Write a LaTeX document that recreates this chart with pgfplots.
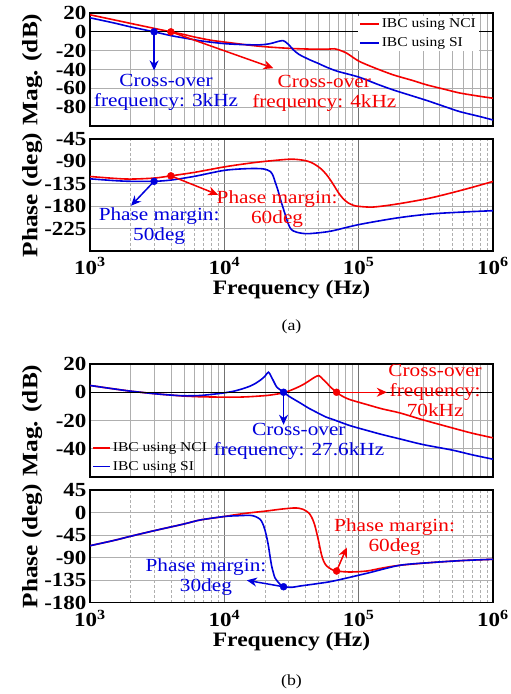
\documentclass[border=0pt]{standalone}
\usepackage{fontspec}
\setmainfont{Liberation Serif}[FakeStretch=1.15]
\usepackage{pgfplots}
\pgfplotsset{compat=1.18}
\usetikzlibrary{arrows.meta}

\definecolor{nred}{RGB}{245,0,0}
\definecolor{sblue}{RGB}{0,0,220}
\definecolor{gridgray}{RGB}{175,175,175}

\tikzset{
  annot/.style={font=\fontsize{18.5}{20}\selectfont, align=center, inner sep=0pt},
  arrw/.style={line width=1.5pt, -{Stealth[length=10pt,width=9pt]}},
}
\newcommand{\ticks}{\fontsize{20}{20}\selectfont\bfseries}
\newcommand{\labs}{\fontsize{22}{22}\selectfont\bfseries}

\begin{document}
\begin{tikzpicture}
\useasboundingbox (0,0) rectangle (511pt,-694pt);

% ---------------- (a) magnitude
\begin{axis}[at={(90pt,-13pt)}, anchor=north west, scale only axis, width=403pt, height=113pt,
    xmode=log, xmin=1000, xmax=1000000, xtick={1000,10000,100000,1000000}, xticklabels={},
    ymin=-100, ymax=20,
    ytick={-80,-60,-40,-20,0,20}, yticklabels={-80,-60,-40,-20,0,20},
    xmajorgrids, xminorgrids, ymajorgrids,
    major tick length=0pt, minor tick length=0pt,
    axis line style={line width=1.5pt},
    major x grid style={black!55, line width=0.6pt},
    minor x grid style={gridgray, line width=0.5pt},
    major y grid style={gridgray, line width=1pt},
    tick label style={font=\ticks},
    ylabel={Mag. (dB)},
    ylabel style={at={(rel axis cs:-0.118,0.5)}, anchor=south, inner sep=0pt, font=\labs},
    legend image code/.code={\draw[#1, line width=1.7pt] (0pt,0pt) -- (19pt,0pt);},
    legend style={at={(rel axis cs:1,1)}, anchor=north east, xshift=-14pt, yshift=-2.5pt,
      draw=none, fill=white, font=\fontsize{13.5}{14}\selectfont,
      row sep=4.5pt, inner sep=1pt, cells={anchor=west}},
]
\addplot[nred, line width=1.6pt, smooth] coordinates {
(1000,18.1)(1500,12.8)(2000,9.0)(3000,3.7)(4000,0)(5000,-2.8)(6000,-5.5)(8000,-9)
(10000,-10.8)(15000,-14)(20000,-15.8)(30000,-17.5)(40000,-18.2)(50000,-18.4)(60000,-18.3)
(66000,-18)(70000,-18.8)(81500,-22.7)(100000,-31)(130000,-38)(181000,-45.7)(250000,-51.5)
(323000,-56.4)(450000,-61.5)(568000,-65)(800000,-68.5)(1000000,-70.5)};
\addlegendentry{IBC using NCI}
\addplot[sblue, line width=1.6pt, smooth] coordinates {
(1000,14.9)(1500,9.5)(2000,5.3)(3000,0)(4000,-4)(5000,-6.5)(7000,-10)(10000,-12.5)
(14000,-13.6)(18400,-13.8)(21000,-13)(23000,-11.8)(25000,-10.3)(27300,-9.3)(29000,-11.5)
(31000,-15.5)(32600,-19)(36000,-24)(43400,-29.8)(50000,-33.5)(57800,-37.6)(70000,-42)
(100000,-48)(140000,-56)(181000,-61.7)(250000,-68)(323000,-73)(450000,-80)(568000,-84.8)
(800000,-90)(1000000,-93.6)};
\addlegendentry{IBC using SI}
\draw[black, line width=1.2pt] (axis cs:1000,0) -- (axis cs:1000000,0);
\addplot[sblue, only marks, mark=*, mark size=3.5pt, forget plot] coordinates {(3000,0)};
\addplot[nred, only marks, mark=*, mark size=3.5pt, forget plot] coordinates {(4000,0)};
\draw[arrw, sblue] (axis cs:3000,0) -- (axis cs:3000,-41);
\draw[arrw, nred] (axis cs:4000,0) -- (axis cs:23200,-38.6);
\node[annot, sblue] at (axis cs:3680,-64.5) {Cross-over\\frequency: 3kHz};
\node[annot, nred] at (axis cs:55500,-65) {Cross-over\\frequency: 4kHz};
\end{axis}

% ---------------- (a) phase
\begin{axis}[at={(90pt,-139pt)}, anchor=north west, scale only axis, width=403pt, height=112pt,
    xmode=log, xmin=1000, xmax=1000000, xtick={1000,10000,100000,1000000},
    xticklabels={10\textsuperscript{3},10\textsuperscript{4},10\textsuperscript{5},10\textsuperscript{6}},
    xticklabel style={yshift=-3pt},
    ymin=-270, ymax=-45,
    ytick={-225,-180,-135,-90,-45}, yticklabels={-225,-180,-135,-90,-45},
    xmajorgrids, xminorgrids, ymajorgrids,
    major tick length=0pt, minor tick length=0pt,
    axis line style={line width=1.5pt},
    major x grid style={black!55, line width=0.6pt},
    minor x grid style={gridgray, line width=0.5pt, dash pattern=on 3pt off 2pt},
    major y grid style={gridgray, line width=1pt},
    tick label style={font=\ticks},
    ylabel={Phase (deg)},
    ylabel style={at={(rel axis cs:-0.118,0.5)}, anchor=south, inner sep=0pt, font=\labs},
    xlabel={Frequency (Hz)},
    xlabel style={at={(rel axis cs:0.5,-0.392)}, anchor=base, font=\fontsize{20.5}{21}\selectfont\bfseries},
]
\addplot[nred, line width=1.6pt, smooth] coordinates {
(1000,-120.3)(1500,-124)(2000,-125.5)(3000,-123.5)(4000,-119)(6000,-112)(10000,-101)
(15000,-94)(20000,-90)(30000,-85.7)(36000,-86.5)(41000,-89)(45000,-93)(48600,-98.3)
(53000,-106)(57800,-117)(61500,-127)(65000,-137)(68500,-147)(72500,-157)(78000,-167)
(84000,-173.7)(92000,-178.5)(100000,-180.3)(128000,-181.7)(192000,-175.7)(339000,-163.7)
(600000,-147)(1000000,-130.3)};
\addplot[sblue, line width=1.6pt, smooth] coordinates {
(1000,-125)(1500,-128.5)(2000,-130)(3000,-130)(4000,-127.5)(6000,-120)(10000,-108)
(15000,-104.5)(19500,-105)(21900,-110)(23000,-118)(23800,-130)(25000,-147)(26000,-163.7)
(27200,-181)(28400,-197)(29600,-212)(30900,-223.7)(32500,-229.5)(34600,-232.3)
(38000,-234.5)(43400,-235)(61500,-230.3)(100000,-217)(192000,-203.7)(339000,-195.7)
(600000,-191.7)(1000000,-189)};
\addplot[sblue, only marks, mark=*, mark size=3.5pt] coordinates {(3000,-130)};
\addplot[nred, only marks, mark=*, mark size=3.5pt] coordinates {(4000,-119)};
\draw[arrw, sblue] (axis cs:3000,-130) -- (axis cs:2020,-179);
\draw[arrw, nred] (axis cs:4000,-119) -- (axis cs:8970,-157);
\node[annot, sblue] at (axis cs:3270,-220.6) {Phase margin:\\50deg};
\node[annot, nred] at (axis cs:24700,-186) {Phase margin:\\60deg};
\end{axis}

\node[font=\fontsize{15.5}{16}\selectfont] at (291.5pt,-327pt) {(a)};

% ---------------- (b) magnitude
\begin{axis}[at={(90pt,-364pt)}, anchor=north west, scale only axis, width=403pt, height=113pt,
    xmode=log, xmin=1000, xmax=1000000, xtick={1000,10000,100000,1000000}, xticklabels={},
    ymin=-60, ymax=20,
    ytick={-40,-20,0,20}, yticklabels={-40,-20,0,20},
    xmajorgrids, xminorgrids, ymajorgrids,
    major tick length=0pt, minor tick length=0pt,
    axis line style={line width=1.5pt},
    major x grid style={black!55, line width=0.6pt},
    minor x grid style={gridgray, line width=0.5pt},
    major y grid style={gridgray, line width=1pt},
    tick label style={font=\ticks},
    ylabel={Mag. (dB)},
    ylabel style={at={(rel axis cs:-0.118,0.5)}, anchor=south, inner sep=0pt, font=\labs},
    legend image code/.code={\draw[#1, line width=1.7pt] (0pt,0pt) -- (17pt,0pt);},
    legend style={at={(rel axis cs:0,0)}, anchor=south west, xshift=1pt, yshift=2pt,
      draw=none, fill=none, font=\fontsize{13.5}{14}\selectfont,
      row sep=4pt, inner sep=1pt, cells={anchor=west}},
]
\addplot[nred, line width=1.6pt, smooth] coordinates {
(1000,4.8)(1500,2.4)(2000,0.8)(3000,-1)(4000,-2)(5000,-2.7)(6600,-3.2)(8800,-3.4)
(11700,-3.5)(15000,-3.2)(20600,-2.3)(25000,-1.2)(27500,-0.5)(32000,1.8)(36600,4.3)
(40000,6.3)(43400,8.5)(47000,10.6)(50600,11.8)(54000,9.3)(57800,6.6)(62000,3.5)
(68500,0)(75000,-2.6)(86000,-5.2)(115000,-8.7)(150000,-11.8)(202000,-14.6)
(300000,-19.5)(500000,-25.3)(700000,-29)(1000000,-32.3)};
\addlegendentry{IBC using NCI}
\addplot[sblue, line width=1.6pt, smooth] coordinates {
(1000,4.8)(1500,2.4)(2000,0.8)(3000,-1)(4000,-2)(5000,-2.5)(6600,-2.3)(8800,-1.1)
(10000,-0.4)(11700,0.7)(13500,2.3)(15500,4.3)(17000,6.2)(18500,8.5)(20000,11.2)
(21300,14.2)(22500,10.5)(23500,7)(24500,3.8)(26000,1.8)(27600,0)(30000,-2.6)(33000,-5)
(36600,-7.5)(42000,-11)(48600,-14.2)(57000,-17.5)(65000,-19.4)(86000,-23.6)(115000,-27)
(150000,-30)(202000,-33)(300000,-37)(500000,-41)(700000,-44.3)(1000000,-47.4)};
\addlegendentry{IBC using SI}
\draw[black, line width=1.2pt] (axis cs:1000,0) -- (axis cs:1000000,0);
\addplot[sblue, only marks, mark=*, mark size=3.5pt, forget plot] coordinates {(27600,0)};
\addplot[nred, only marks, mark=*, mark size=3.5pt, forget plot] coordinates {(68500,0)};
\draw[arrw, sblue] (axis cs:27600,0) -- (axis cs:27600,-23);
\draw[arrw, nred] (axis cs:68500,0) -- (axis cs:162000,0);
\node[annot, sblue] at (axis cs:35900,-34.8) {Cross-over\\frequency: 27.6kHz};
\node[annot, nred] at (axis cs:371000,1) {Cross-over\\frequency:\\70kHz};
\end{axis}

% ---------------- (b) phase
\begin{axis}[at={(90pt,-490pt)}, anchor=north west, scale only axis, width=403pt, height=112.5pt,
    xmode=log, xmin=1000, xmax=1000000, xtick={1000,10000,100000,1000000},
    xticklabels={10\textsuperscript{3},10\textsuperscript{4},10\textsuperscript{5},10\textsuperscript{6}},
    xticklabel style={yshift=-4pt},
    ymin=-180, ymax=45,
    ytick={-180,-135,-90,-45,0,45}, yticklabels={-180,-135,-90,-45,0,45},
    xmajorgrids, xminorgrids, ymajorgrids,
    major tick length=0pt, minor tick length=0pt,
    axis line style={line width=1.5pt},
    major x grid style={black!55, line width=0.6pt},
    minor x grid style={gridgray, line width=0.5pt, dash pattern=on 3pt off 2pt},
    major y grid style={gridgray, line width=1pt},
    tick label style={font=\ticks},
    ylabel={Phase (deg)},
    ylabel style={at={(rel axis cs:-0.118,0.5)}, anchor=south, inner sep=0pt, font=\labs},
    xlabel={Frequency (Hz)},
    xlabel style={at={(rel axis cs:0.5,-0.391)}, anchor=base, font=\fontsize{20.5}{21}\selectfont\bfseries},
]
\addplot[nred, line width=1.6pt, smooth] coordinates {
(1000,-66.4)(1500,-56)(2000,-47.6)(3000,-36.4)(5000,-23)(6600,-15)(10000,-8)
(11700,-5)(15000,-1)(20600,3)(26000,6.5)(32600,9)(36000,8.5)(38600,6.3)(41000,2.5)
(43400,-3.7)(45500,-14)(47300,-27)(50000,-53.7)(52800,-83.7)(55000,-98)(57800,-107)
(62800,-113.7)(68500,-117)(86000,-119)(115000,-117)(150000,-111)(202000,-105.6)
(350000,-100)(600000,-96)(1000000,-93.6)};
\addplot[sblue, line width=1.6pt, smooth] coordinates {
(1000,-66.4)(1500,-56)(2000,-47.6)(3000,-36.4)(5000,-23)(6600,-15)(10000,-8)
(12500,-6.5)(15500,-5.7)(17000,-8)(18500,-13.7)(19300,-22)(20000,-33.7)(20700,-50)
(21300,-67)(21900,-88)(22500,-107)(23200,-121)(23800,-130.4)(25000,-138.5)(26000,-143.7)
(27600,-148.5)(32000,-149.5)(36600,-147)(50000,-142)(65000,-137)(115000,-121.6)
(202000,-105.6)(350000,-100)(600000,-96)(1000000,-93.6)};
\addplot[sblue, only marks, mark=*, mark size=3.5pt] coordinates {(27600,-148.5)};
\addplot[nred, only marks, mark=*, mark size=3.5pt] coordinates {(68500,-117)};
\draw[arrw, sblue] (axis cs:27600,-148.5) -- (axis cs:14700,-135.6);
\draw[arrw, nred] (axis cs:68500,-117) -- (axis cs:81500,-70);
\node[annot, sblue] at (axis cs:7300,-130) {Phase margin:\\30deg};
\node[annot, nred] at (axis cs:185000,-49) {Phase margin:\\60deg};
\end{axis}

\node[font=\fontsize{15.5}{16}\selectfont] at (291.5pt,-681.5pt) {(b)};
\end{tikzpicture}
\end{document}
